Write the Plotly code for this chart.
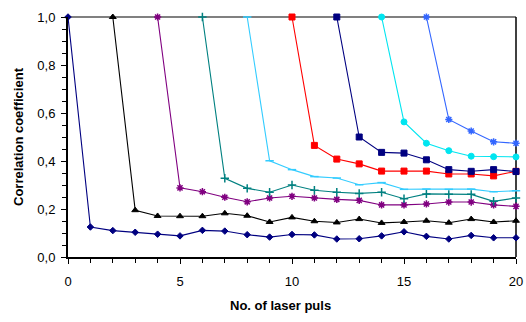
import plotly.graph_objects as go

x_all = list(range(0, 21))

s1 = [1.0, 0.125, 0.11, 0.103, 0.095, 0.088, 0.111, 0.108, 0.093, 0.083, 0.094, 0.092, 0.075, 0.076, 0.088, 0.105, 0.086, 0.075, 0.09, 0.08, 0.08]
s2 = [1.0, 0.195, 0.171, 0.17, 0.17, 0.182, 0.172, 0.146, 0.165, 0.149, 0.144, 0.158, 0.142, 0.146, 0.151, 0.143, 0.158, 0.146, 0.151]
s3 = [1.0, 0.288, 0.272, 0.249, 0.23, 0.246, 0.253, 0.246, 0.24, 0.236, 0.217, 0.217, 0.221, 0.229, 0.229, 0.217, 0.211]
s4 = [1.0, 0.328, 0.286, 0.27, 0.3, 0.278, 0.27, 0.265, 0.27, 0.243, 0.263, 0.261, 0.261, 0.232, 0.246]
s5 = [1.0, 0.401, 0.364, 0.335, 0.329, 0.301, 0.31, 0.282, 0.283, 0.282, 0.283, 0.272, 0.276]
s6 = [1.0, 0.465, 0.408, 0.388, 0.358, 0.358, 0.358, 0.346, 0.346, 0.338, 0.357]
s7 = [1.0, 0.5, 0.436, 0.433, 0.405, 0.364, 0.357, 0.364, 0.356]
s8 = [1.0, 0.563, 0.474, 0.443, 0.42, 0.418, 0.417]
s9 = [1.0, 0.573, 0.525, 0.48, 0.474]
starts = [0, 2, 4, 6, 8, 10, 12, 14, 16]

series = [s1, s2, s3, s4, s5, s6, s7, s8, s9]
colors = ["#000080", "#000000", "#800080", "#008080", "#33CCFF", "#FF0000", "#000080", "#00E5F0", "#3366FF"]
symbols = ["diamond", "triangle-up", "asterisk-open", "cross-thin-open", "line-ew-open", "square", "square", "circle", "asterisk-open"]
sizes = [5, 6, 6, 6, 6, 6, 6, 6, 6]

x_ticks = [0, 5, 10, 15, 20]
y_ticks = [0.0, 0.2, 0.4, 0.6, 0.8, 1.0]

fig = go.Figure()
for vals, st, c, sym, sz in zip(series, starts, colors, symbols, sizes):
    xs = x_all[st:st + len(vals)]
    lw = 1.5 if sym in ("asterisk-open", "cross-thin-open", "line-ew-open") else 1
    fig.add_trace(go.Scatter(
        x=xs, y=vals, mode="lines+markers",
        line=dict(color=c, width=1.1),
        marker=dict(symbol=sym, size=sz, color=c, line=dict(color=c, width=lw)),
        showlegend=False, cliponaxis=False,
    ))

font = dict(family="Liberation Sans, Arial, sans-serif", size=13, color="#000000")

fig.update_layout(
    width=526, height=322,
    margin=dict(l=68, r=10, t=17, b=65),
    paper_bgcolor="white", plot_bgcolor="white",
    separators=", ",
    font=font,
    xaxis=dict(
        range=[0, 20], tickvals=x_ticks, showgrid=False, zeroline=False,
        showline=True, linecolor="black", linewidth=2, automargin=False,
        ticks="outside", ticklen=5, tickcolor="black", tickwidth=1,
        minor=dict(dtick=1, ticks="outside", ticklen=4, tickcolor="black"),
        tickfont=dict(size=13), ticklabelstandoff=6,
    ),
    yaxis=dict(
        range=[0, 1.0], tickvals=y_ticks, tickformat=".1f", showgrid=False, zeroline=False,
        showline=True, linecolor="black", linewidth=2, automargin=False,
        ticks="outside", ticklen=5, tickcolor="black", tickwidth=1,
        minor=dict(dtick=0.05, ticks="outside", ticklen=4, tickcolor="black"),
        tickfont=dict(size=13), ticklabelstandoff=3,
    ),
    annotations=[
        dict(text="<b>No. of laser puls</b>", xref="paper", yref="paper",
             x=(280 - 68) / 448, y=(257 - 305) / 240, showarrow=False,
             xanchor="center", yanchor="middle", font=dict(size=13)),
        dict(text="<b>Correlation coefficient</b>", xref="paper", yref="paper",
             x=(18 - 68) / 448, y=(257 - 137) / 240, showarrow=False, textangle=-90,
             xanchor="center", yanchor="middle", font=dict(size=13)),
    ],
    shapes=[
        dict(type="line", xref="paper", yref="paper", x0=0, x1=1, y0=1, y1=1,
             line=dict(color="#808080", width=2), layer="below"),
        dict(type="line", xref="paper", yref="paper", x0=1, x1=1, y0=0, y1=1,
             line=dict(color="#000000", width=1.5), layer="below"),
    ],
)

fig.write_html("out.html", config={"displayModeBar": False},
               post_script="document.body.style.margin='0';document.body.style.overflow='hidden';")
